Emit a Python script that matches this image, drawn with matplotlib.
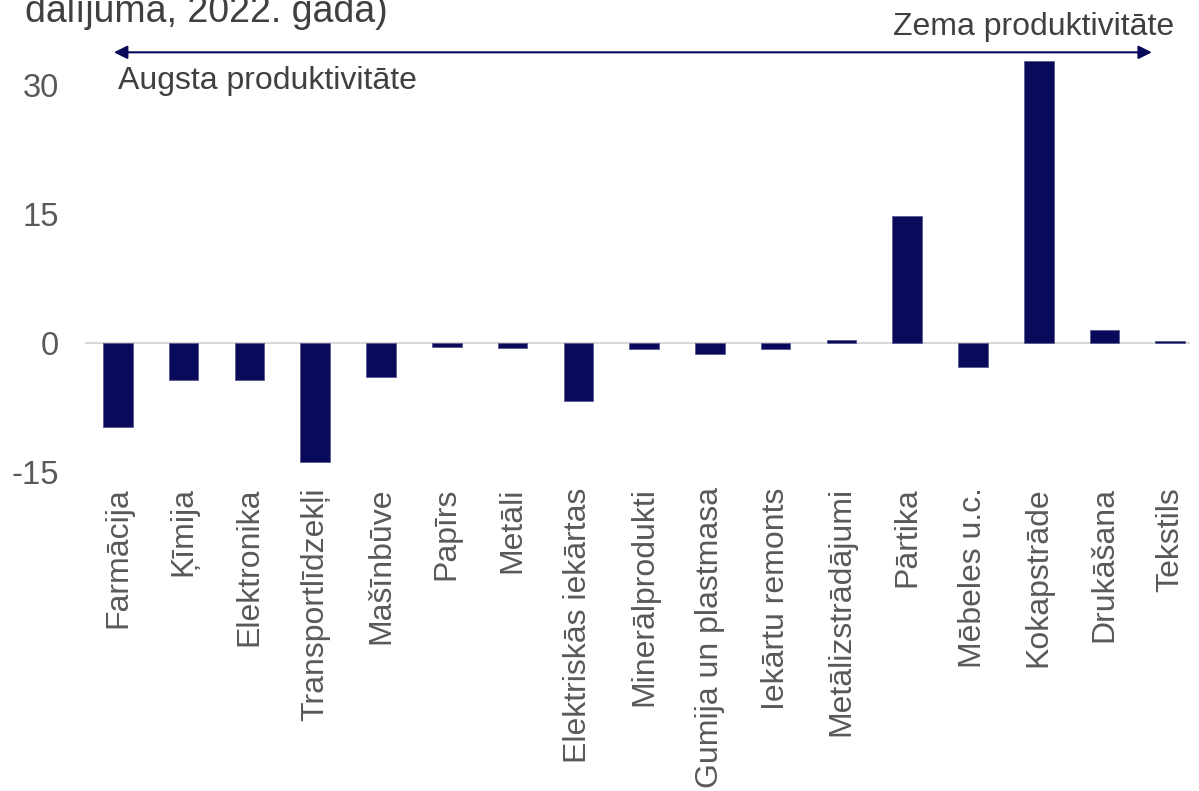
import matplotlib
matplotlib.use("Agg")
import matplotlib.pyplot as plt
import numpy as np

plt.rcParams['font.family'] = ['Liberation Sans', 'DejaVu Sans']

categories = ["Farmācija", "Ķīmija", "Elektronika", "Transportlīdzekļi", "Mašīnbūve",
              "Papīrs", "Metāli", "Elektriskās iekārtas", "Minerālprodukti",
              "Gumija un plastmasa", "Iekārtu remonts", "Metālizstrādājumi",
              "Pārtika", "Mēbeles u.c.", "Kokapstrāde", "Drukāšana", "Tekstils"]
values = [-9.8, -4.3, -4.3, -13.8, -4.0, -0.5, -0.6, -6.7, -0.65, -1.3, -0.7,
          0.35, 14.8, -2.75, 32.8, 1.5, 0.25]
yticks = [-15, 0, 15, 30]
title_tail = "dalījumā, 2022. gadā)"
left_label = "Augsta produktivitāte"
right_label = "Zema produktivitāte"

W, H = 1199, 791
fig = plt.figure(figsize=(W / 100, H / 100), dpi=100)

# axes in pixel coordinates
x0, x1 = 85, 1190
ytop, ybot = 42, 472
ax = fig.add_axes([x0 / W, 1 - ybot / H, (x1 - x0) / W, (ybot - ytop) / H])

bar_color = "#0a0a5a"
txt_color = "#595959"
x = np.arange(len(categories))
ax.bar(x, values, width=0.45, color=bar_color, edgecolor="#5a5a90", linewidth=0.6, zorder=3)
ax.axhline(0, color="#d9d9d9", linewidth=1.5, zorder=2)

ax.set_xlim(-0.5, 16.3)
ax.set_ylim(-15, 35)
ax.set_yticks(yticks)
ax.set_yticklabels([str(v) for v in yticks], fontsize=23.5, color=txt_color)
ax.set_xticks(x)
ax.set_xticklabels(categories, rotation=90, fontsize=23, color=txt_color, va="top", ha="center")
ax.tick_params(axis="both", length=0)
ax.tick_params(axis="y", pad=19)
ax.tick_params(axis="x", pad=11)
for s in ax.spines.values():
    s.set_visible(False)

# arrow
ax.annotate("", xy=(-0.06, 33.8), xytext=(15.72, 33.8), xycoords="data",
            arrowprops=dict(arrowstyle="<|-|>", color=bar_color, lw=1.5,
                            mutation_scale=20, shrinkA=0, shrinkB=0))
ax.text(0.0, 30.5, left_label, fontsize=23, color="#404040", ha="left", va="center")
ax.text(16.06, 36.7, right_label, fontsize=23, color="#404040", ha="right", va="center",
        clip_on=False)

fig.text(25 / W, 1 - 22 / H, title_tail, fontsize=27, color="#404040", ha="left", va="baseline")

fig.savefig("out.png", dpi=100)
